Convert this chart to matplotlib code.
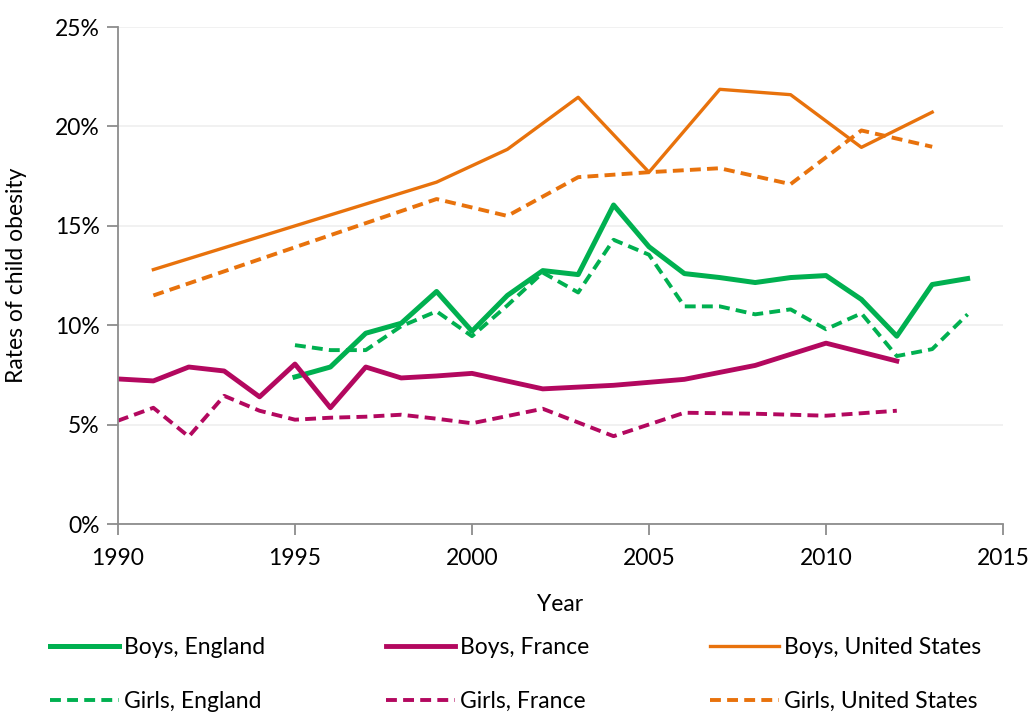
import matplotlib
matplotlib.use('Agg')
import matplotlib.pyplot as plt
from matplotlib.ticker import FuncFormatter

plt.rcParams['font.family'] = ['Lato', 'DejaVu Sans']

years_boys_eng = list(range(1995, 2015))
boys_eng = [7.4, 7.9, 9.6, 10.1, 11.7, 9.7, 11.5, 12.75, 12.55, 16.05, 13.95,
            12.6, 12.4, 12.15, 12.4, 12.5, 11.3, 9.45, 12.05, 12.35]
years_girls_eng = list(range(1995, 2015))
girls_eng = [9.0, 8.75, 8.75, 9.95, 10.7, 9.45, 11.0, 12.65, 11.65, 14.3, 13.55,
             10.95, 10.95, 10.55, 10.8, 9.8, 10.6, 8.45, 8.8, 10.55]

years_boys_fr = [1990, 1991, 1992, 1993, 1994, 1995, 1996, 1997, 1998, 1999, 2000,
                 2002, 2004, 2006, 2008, 2010, 2012]
boys_fr = [7.3, 7.2, 7.9, 7.7, 6.4, 8.05, 5.85, 7.9, 7.35, 7.45, 7.58,
           6.8, 6.98, 7.28, 7.98, 9.1, 8.2]
years_girls_fr = [1990, 1991, 1992, 1993, 1994, 1995, 1996, 1997, 1998, 1999, 2000,
                  2002, 2004, 2006, 2008, 2010, 2012]
girls_fr = [5.2, 5.85, 4.4, 6.45, 5.7, 5.25, 5.35, 5.4, 5.5, 5.3, 5.07,
            5.8, 4.42, 5.6, 5.55, 5.45, 5.7]

years_us = [1991, 1999, 2001, 2003, 2005, 2007, 2009, 2011, 2013]
boys_us = [12.8, 17.2, 18.85, 21.47, 17.7, 21.87, 21.6, 18.95, 20.72]
girls_us = [11.5, 16.35, 15.5, 17.45, 17.7, 17.9, 17.1, 19.8, 18.98]

green = '#00B050'
magenta = '#B3085F'
orange = '#E8720C'
axis_gray = '#8C8C8C'
dash = (0, (2.8, 1.6))
fs = 16.5

fig = plt.figure(figsize=(10.32, 7.13), dpi=100)
ax = fig.add_axes([0.1143, 0.265, 0.8576, 0.697])

ax.plot(years_boys_eng, boys_eng, color=green, lw=3.6, label='Boys, England')
ax.plot(years_girls_eng, girls_eng, color=green, lw=2.8, ls=dash, label='Girls, England')
ax.plot(years_boys_fr, boys_fr, color=magenta, lw=3.5, label='Boys, France')
ax.plot(years_girls_fr, girls_fr, color=magenta, lw=2.8, ls=dash, label='Girls, France')
ax.plot(years_us, boys_us, color=orange, lw=2.4, label='Boys, United States')
ax.plot(years_us, girls_us, color=orange, lw=2.8, ls=dash, label='Girls, United States')

ax.set_xlim(1990, 2015)
ax.set_ylim(0, 25)
ax.set_xticks(range(1990, 2016, 5))
ax.set_yticks(range(0, 26, 5))
ax.yaxis.set_major_formatter(FuncFormatter(lambda v, p: '%d%%' % v))
ax.grid(axis='y', color='#EFEFEF', lw=1.2)
ax.set_axisbelow(True)

for s in ['top', 'right']:
    ax.spines[s].set_visible(False)
for s in ['left', 'bottom']:
    ax.spines[s].set_color(axis_gray)
    ax.spines[s].set_linewidth(1.3)
ax.tick_params(axis='both', colors=axis_gray, length=8, width=1.3, labelcolor='black', labelsize=fs)
ax.tick_params(axis='y', pad=5)
ax.tick_params(axis='x', pad=9)

ax.set_xlabel('Year', fontsize=fs, labelpad=18)
ax.set_ylabel('Rates of child obesity', fontsize=fs, labelpad=20)

handles, labels = ax.get_legend_handles_labels()
fig.legend(handles, labels, loc='center left', bbox_to_anchor=(0.04, 0.054), ncol=3,
           frameon=False, fontsize=fs, handlelength=3.0, handletextpad=0.2,
           columnspacing=5.3, labelspacing=1.45, borderaxespad=0)

fig.savefig('out.png', dpi=100)
